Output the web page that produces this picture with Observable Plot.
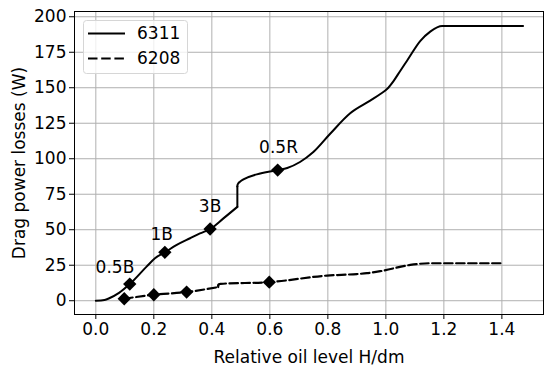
<!DOCTYPE html>
<html>
<head>
<meta charset="utf-8">
<script src="https://cdn.jsdelivr.net/npm/d3@7"></script>
<script src="https://cdn.jsdelivr.net/npm/@observablehq/plot@0.6"></script>
<style>
  html, body { margin: 0; padding: 0; background: #fff; }
  #wrap { position: relative; width: 550px; height: 370px; font-family: "DejaVu Sans", sans-serif; }
  #legend { position: absolute; left: 83px; top: 20px; }
</style>
</head>
<body>
<div id="wrap"></div>
<script>
// ---- data ----
const seriesNames = ["6311", "6208"];

// 6311 curve, in three pieces: before the step, the vertical step, after the step
const x6311a = [0, 0.03, 0.048, 0.08, 0.117, 0.175, 0.204, 0.238, 0.279, 0.325, 0.359, 0.394, 0.44, 0.488];
const y6311a = [0, 0.5, 1.9, 5.5, 11.7, 24, 29.9, 34.1, 39.3, 44, 47.4, 50.5, 58, 66.1];
const x6311b = [0.488, 0.4885, 0.491, 0.497, 0.509, 0.555, 0.627, 0.66, 0.704, 0.75, 0.808, 0.877, 0.946, 0.981, 1.004, 1.027, 1.05, 1.073, 1.119, 1.153, 1.194, 1.473];
const y6311b = [80.5, 81.5, 82.6, 83.8, 85.5, 89, 92, 93.5, 97.7, 104.7, 117.6, 132, 140.9, 145.6, 149.1, 154.9, 162, 169, 183, 189.5, 193.5, 193.5];

// 6208 curve, in two pieces around the small step
const x6208a = [0.098, 0.2, 0.313, 0.422];
const y6208a = [1.4, 4.2, 6.1, 9.6];
const x6208b = [0.422, 0.424, 0.43, 0.598, 0.797, 0.9, 0.935, 0.981, 1.084, 1.153, 1.395];
const y6208b = [10.8, 11.6, 11.9, 13.1, 17.7, 18.8, 19.4, 20.8, 25.2, 26.4, 26.4];

const mx6311 = [0.117, 0.238, 0.394, 0.627];
const my6311 = [11.7, 34.1, 50.5, 92];
const mx6208 = [0.098, 0.2, 0.313, 0.598];
const my6208 = [1.4, 4.2, 6.1, 13.1];

const annLabels = ["0.5B", "1B", "3B", "0.5R"];
const annX = [0.066, 0.227, 0.394, 0.63];
const annY = [23.6, 46.3, 66.4, 108];

const xTicks = [0, 0.2, 0.4, 0.6, 0.8, 1.0, 1.2, 1.4];
const yTicks = [0, 25, 50, 75, 100, 125, 150, 175, 200];

// ---- build tables ----
const pts = (xs, ys, seg) => xs.map((x, i) => ({x, y: ys[i], seg}));
const line6311 = [
  ...pts(x6311a, y6311a, "a"),
  ...pts([x6311a[x6311a.length - 1], x6311b[0]], [y6311a[y6311a.length - 1], y6311b[0]], "jump"),
  ...pts(x6311b, y6311b, "b")
];
const line6208 = [
  ...pts(x6208a, y6208a, "a"),
  ...pts([x6208a[x6208a.length - 1], x6208b[0]], [y6208a[y6208a.length - 1], y6208b[0]], "jump"),
  ...pts(x6208b, y6208b, "b")
];
const mk6311 = mx6311.map((x, i) => ({x, y: my6311[i]}));
const mk6208 = mx6208.map((x, i) => ({x, y: my6208[i]}));
const anns = annLabels.map((t, i) => ({x: annX[i], y: annY[i], t}));

const gridStyle = {stroke: "#b0b0b0", strokeOpacity: 1, strokeWidth: 1};
const FS = 17;
const DASH = "8.5,3.5";

const chart = Plot.plot({
  width: 550,
  height: 370,
  marginLeft: 74,
  marginRight: 7,
  marginTop: 11,
  marginBottom: 56,
  style: {fontFamily: "DejaVu Sans, sans-serif", fontSize: FS + "px", color: "#000", background: "#fff"},
  x: {domain: [-0.0735, 1.5435]},
  y: {domain: [-9.7, 203.7]},
  marks: [
    Plot.gridX(xTicks, gridStyle),
    Plot.gridY(yTicks, gridStyle),
    Plot.axisX(xTicks, {tickSize: 5, tickPadding: 3, tickFormat: d3.format(".1f"), fontSize: FS,
      label: "Relative oil level H/dm", labelAnchor: "center", labelArrow: "none", labelOffset: 48}),
    Plot.axisY(yTicks, {tickSize: 5, tickPadding: 3, tickFormat: d3.format("d"), fontSize: FS,
      label: "Drag power losses (W)", labelAnchor: "center", labelArrow: "none", labelOffset: 62}),
    Plot.line(line6311, {x: "x", y: "y", z: "seg", stroke: "#000", strokeWidth: 2, curve: "monotone-x"}),
    Plot.line(line6208, {x: "x", y: "y", z: "seg", stroke: "#000", strokeWidth: 2.2, strokeDasharray: DASH, curve: "monotone-x"}),
    Plot.dot(mk6311, {x: "x", y: "y", symbol: "diamond2", r: 6, fill: "#000", stroke: "none"}),
    Plot.dot(mk6208, {x: "x", y: "y", symbol: "diamond2", r: 6, fill: "#000", stroke: "none"}),
    Plot.text(anns, {x: "x", y: "y", text: "t", fontSize: FS, fill: "#000", lineAnchor: "middle", textAnchor: "middle"}),
    Plot.frame({stroke: "#000", strokeWidth: 1})
  ]
});

const wrap = document.getElementById("wrap");
wrap.appendChild(chart);

// ---- legend (inside axes, upper left) ----
const ns = "http://www.w3.org/2000/svg";
const leg = document.createElementNS(ns, "svg");
leg.setAttribute("id", "legend");
leg.setAttribute("width", 105);
leg.setAttribute("height", 54);
const box = document.createElementNS(ns, "rect");
box.setAttribute("x", 0.5); box.setAttribute("y", 0.5);
box.setAttribute("width", 104); box.setAttribute("height", 53);
box.setAttribute("rx", 3);
box.setAttribute("fill", "rgba(255,255,255,0.8)");
box.setAttribute("stroke", "#d6d6d6");
leg.appendChild(box);
const dashes = [null, "9.5,3.7"];
seriesNames.forEach((name, i) => {
  const yy = 13.5 + i * 25;
  const ln = document.createElementNS(ns, "line");
  ln.setAttribute("x1", 5); ln.setAttribute("x2", 42);
  ln.setAttribute("y1", yy); ln.setAttribute("y2", yy);
  ln.setAttribute("stroke", "#000"); ln.setAttribute("stroke-width", 2.2);
  if (dashes[i]) ln.setAttribute("stroke-dasharray", dashes[i]);
  leg.appendChild(ln);
  const tx = document.createElementNS(ns, "text");
  tx.setAttribute("x", 54); tx.setAttribute("y", yy);
  tx.setAttribute("dy", "0.35em");
  tx.setAttribute("font-family", "DejaVu Sans, sans-serif");
  tx.setAttribute("font-size", FS);
  tx.textContent = name;
  leg.appendChild(tx);
});
wrap.appendChild(leg);
</script>
</body>
</html>
